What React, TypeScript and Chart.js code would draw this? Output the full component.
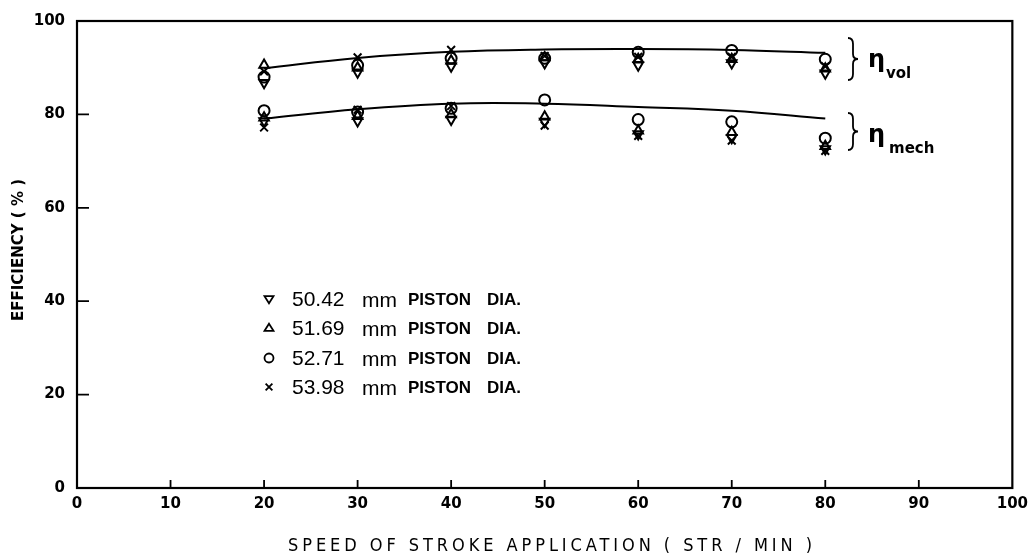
import React, { useEffect, useRef } from "react";
import { Chart, registerables } from "chart.js";

Chart.register(...registerables);

// Speeds of stroke application (str/min)
const speeds = [20, 30, 40, 50, 60, 70, 80];

// Volumetric efficiency (%) for each piston diameter
const volD5042 = [86.8, 89.0, 90.3, 91.0, 90.5, 91.0, 88.8];
const volD5169 = [90.6, 90.0, 91.5, 92.2, 91.8, 91.8, 89.8];
const volD5271 = [88.0, 90.5, 92.0, 92.0, 93.3, 93.7, 91.8];
const volD5398 = [89.2, 92.2, 93.8, 92.5, 92.3, 92.3, 90.3];

// Mechanical efficiency (%) for each piston diameter
const mechD5042 = [78.6, 78.6, 78.9, 78.5, 75.8, 75.0, 72.6];
const mechD5169 = [79.3, 79.6, 80.0, 79.5, 76.5, 76.2, 73.2];
const mechD5271 = [80.8, 80.5, 81.3, 83.1, 78.9, 78.4, 74.9];
const mechD5398 = [77.2, 81.0, 81.8, 77.6, 75.4, 74.4, 72.2];

// Fitted curves
const volFit = [89.9, 92.1, 93.4, 93.9, 94.0, 93.8, 93.2];
const mechFit = [79.1, 81.1, 82.3, 82.3, 81.6, 80.8, 79.1];

// Legend / annotation texts
const diameters = ["50.42", "51.69", "52.71", "53.98"];
const xTitle = "SPEED OF STROKE APPLICATION ( STR / MIN )";
const yTitle = "EFFICIENCY ( % )";
const yInnerTicks = [20, 40, 60, 80];
const xInnerTicks = [10, 20, 30, 40, 50, 60, 70, 80, 90];

const markerStyles = [
  { pointStyle: "triangle", rotation: 180 },
  { pointStyle: "triangle", rotation: 0 },
  { pointStyle: "circle", rotation: 0 },
  { pointStyle: "crossRot", rotation: 0 },
];

const toXY = (ys: number[]) => speeds.map((x, i) => ({ x, y: ys[i] }));

function drawMarker(ctx: CanvasRenderingContext2D, kind: number, x: number, y: number, r: number) {
  ctx.beginPath();
  if (kind === 0 || kind === 1) {
    const s = kind === 0 ? -1 : 1;
    const h = r * 1.6;
    ctx.moveTo(x, y - s * h * 0.6);
    ctx.lineTo(x + r, y + s * h * 0.4);
    ctx.lineTo(x - r, y + s * h * 0.4);
    ctx.closePath();
  } else if (kind === 2) {
    ctx.arc(x, y, r, 0, Math.PI * 2);
  } else {
    const d = r * 0.75;
    ctx.moveTo(x - d, y - d);
    ctx.lineTo(x + d, y + d);
    ctx.moveTo(x + d, y - d);
    ctx.lineTo(x - d, y + d);
  }
  ctx.stroke();
}

function drawBrace(ctx: CanvasRenderingContext2D, x: number, y0: number, y1: number) {
  const mid = (y0 + y1) / 2;
  ctx.beginPath();
  ctx.moveTo(x, y0);
  ctx.quadraticCurveTo(x + 5, y0, x + 5, y0 + 6);
  ctx.lineTo(x + 5, mid - 5);
  ctx.quadraticCurveTo(x + 5, mid, x + 10, mid);
  ctx.quadraticCurveTo(x + 5, mid, x + 5, mid + 5);
  ctx.lineTo(x + 5, y1 - 6);
  ctx.quadraticCurveTo(x + 5, y1, x, y1);
  ctx.stroke();
}

const decorPlugin = {
  id: "decor",
  afterDraw(chart: any) {
    const ctx: CanvasRenderingContext2D = chart.ctx;
    const { left, right, top, bottom } = chart.chartArea;
    const xs = chart.scales.x;
    const ys = chart.scales.y;
    ctx.save();
    ctx.strokeStyle = "#000";
    ctx.fillStyle = "#000";
    ctx.lineWidth = 2.2;
    ctx.strokeRect(left, top, right - left, bottom - top);
    // inward ticks
    ctx.lineWidth = 1.8;
    ctx.beginPath();
    yInnerTicks.forEach((v) => {
      const py = ys.getPixelForValue(v);
      ctx.moveTo(left, py);
      ctx.lineTo(left + 12, py);
    });
    xInnerTicks.forEach((v) => {
      const px = xs.getPixelForValue(v);
      ctx.moveTo(px, bottom);
      ctx.lineTo(px, bottom - 8);
    });
    ctx.stroke();

    // Y title
    ctx.save();
    ctx.translate(19, 250);
    ctx.rotate(-Math.PI / 2);
    ctx.font = "bold 15px 'DejaVu Sans'";
    ctx.textAlign = "center";
    ctx.textBaseline = "middle";
    ctx.fillText(yTitle, 0, 0);
    ctx.restore();

    // X title with spacing
    ctx.font = "18px 'DejaVu Sans Condensed', 'DejaVu Sans'";
    const plain = ctx.measureText(xTitle).width;
    const target = 524;
    const sp = Math.max(0, (target - plain) / (xTitle.length - 1));
    (ctx as any).letterSpacing = sp + "px";
    ctx.textAlign = "left";
    ctx.textBaseline = "middle";
    ctx.fillText(xTitle, 288, 546);
    (ctx as any).letterSpacing = "0px";

    // Legend
    const rows = [299, 328, 358, 387];
    ctx.lineWidth = 1.8;
    diameters.forEach((d, i) => {
      const y = rows[i];
      drawMarker(ctx, i, 269, y, 4.5);
      ctx.textBaseline = "middle";
      ctx.textAlign = "left";
      ctx.font = "21px 'Liberation Sans'";
      ctx.fillText(d, 292, y + 1);
      ctx.fillText("mm", 362, y + 2);
      ctx.font = "bold 17px 'Liberation Sans'";
      ctx.fillText("PISTON", 408, y + 1);
      ctx.fillText("DIA.", 487, y + 1);
    });

    // Braces and eta labels
    ctx.lineWidth = 1.8;
    drawBrace(ctx, 848, 38, 80);
    drawBrace(ctx, 848, 113, 150);
    ctx.textAlign = "left";
    ctx.textBaseline = "alphabetic";
    ctx.font = "bold 24px 'DejaVu Sans'";
    ctx.fillText("η", 868, 67);
    ctx.fillText("η", 868, 142);
    ctx.font = "bold 15px 'DejaVu Sans'";
    ctx.fillText("vol", 886, 78);
    ctx.fillText("mech", 889, 153);
    ctx.restore();
  },
};

export default function App() {
  const ref = useRef<HTMLCanvasElement>(null);
  useEffect(() => {
    document.body.style.margin = "0";
    const canvas = ref.current!;
    const volSets = [volD5042, volD5169, volD5271, volD5398];
    const mechSets = [mechD5042, mechD5169, mechD5271, mechD5398];
    const pointSets: any[] = [];
    [volSets, mechSets].forEach((group, g) => {
      group.forEach((vals, i) => {
        pointSets.push({
          label: diameters[i] + (g === 0 ? " vol" : " mech"),
          data: toXY(vals),
          showLine: false,
          pointStyle: markerStyles[i].pointStyle,
          rotation: markerStyles[i].rotation,
          pointRadius: 5.5,
          pointBorderWidth: 2,
          borderColor: "#000",
          backgroundColor: "rgba(0,0,0,0)",
        });
      });
    });
    const fitSets = [volFit, mechFit].map((vals, i) => ({
      label: i === 0 ? "vol fit" : "mech fit",
      data: toXY(vals),
      showLine: true,
      tension: 0.4,
      pointRadius: 0,
      borderColor: "#000",
      borderWidth: 2,
      fill: false,
    }));
    const tickFont = { family: "'DejaVu Sans'", size: 15, weight: "bold" };
    const chart = new Chart(canvas, {
      type: "scatter",
      data: { datasets: [...fitSets, ...pointSets] as any },
      options: {
        animation: false,
        responsive: false,
        devicePixelRatio: 1,
        layout: { padding: { top: 18, right: 19, left: 0, bottom: 0 } },
        plugins: { legend: { display: false }, tooltip: { enabled: false } },
        scales: {
          x: {
            type: "linear",
            min: 0,
            max: 100,
            ticks: {
              stepSize: 10,
              color: "#000",
              padding: 7,
              maxRotation: 0,
              font: tickFont,
            },
            grid: { display: false, drawTicks: false },
            border: { display: false },
            afterFit: (s: any) => {
              s.height = 70;
            },
          },
          y: {
            type: "linear",
            min: 0,
            max: 100,
            ticks: {
              stepSize: 20,
              color: "#000",
              padding: 12,
              font: tickFont,
            },
            grid: { display: false, drawTicks: false },
            border: { display: false },
            afterFit: (s: any) => {
              s.width = 77;
            },
          },
        },
      },
      plugins: [decorPlugin],
    } as any);
    return () => chart.destroy();
  }, []);
  return (
    <div style={{ width: 1035, height: 558, position: "relative" }}>
      <canvas ref={ref} width={1035} height={558} style={{ display: "block" }} />
    </div>
  );
}
